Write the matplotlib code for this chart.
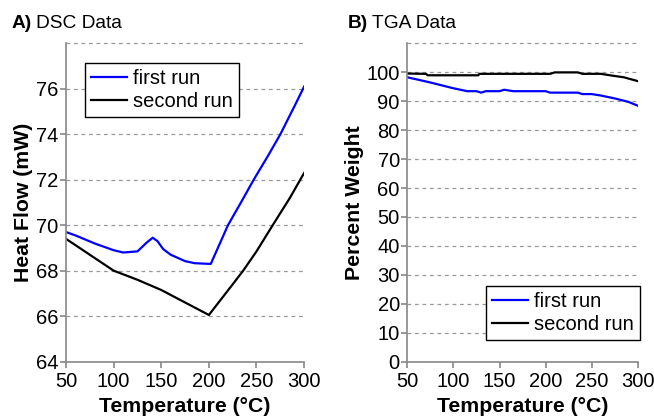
import matplotlib
matplotlib.use("Agg")
import matplotlib.pyplot as plt

plt.rcParams['font.family'] = ['Liberation Sans', 'DejaVu Sans']

# DSC data (temperature in °C, heat flow in mW)
dsc_t1 = [50, 60, 80, 100, 110, 125, 135, 141, 146, 152, 160, 175, 185, 200, 202, 220, 235, 247, 262, 275, 290, 300]
dsc_first = [69.7, 69.55, 69.2, 68.9, 68.8, 68.85, 69.25, 69.45, 69.3, 68.95, 68.7, 68.42, 68.33, 68.3, 68.3, 70.0, 71.1, 72.0, 73.05, 74.0, 75.25, 76.1]
dsc_t2 = [50, 75, 100, 125, 150, 175, 200, 225, 236, 250, 267, 285, 300]
dsc_second = [69.4, 68.7, 68.0, 67.6, 67.15, 66.6, 66.05, 67.4, 68.0, 68.85, 70.0, 71.2, 72.3]

# TGA data (temperature in °C, percent weight)
tga_t1 = [50, 75, 100, 115, 125, 130, 135, 150, 155, 165, 200, 205, 235, 240, 250, 260, 275, 290, 300]
tga_first = [98.3, 96.5, 94.5, 93.5, 93.5, 93.0, 93.5, 93.5, 94.0, 93.5, 93.5, 93.0, 93.0, 92.5, 92.5, 92.0, 91.0, 89.8, 88.5]
tga_t2 = [50, 70, 72, 127, 128, 205, 210, 235, 240, 260, 270, 285, 300]
tga_second = [99.6, 99.5, 99.0, 99.0, 99.5, 99.5, 100.0, 100.0, 99.5, 99.5, 99.0, 98.3, 97.0]

xticks = [50, 100, 150, 200, 250, 300]
gray = '#888888'
dash = (0, (3, 3))

fig = plt.figure(figsize=(6.54, 4.18), dpi=100)
ax1 = fig.add_axes([0.101, 0.135, 0.364, 0.761])
ax2 = fig.add_axes([0.623, 0.135, 0.352, 0.761])


def style(ax, ylim, yticks, ylabel):
    ax.set_xlim(50, 300)
    ax.set_ylim(*ylim)
    ax.set_xticks(xticks)
    ax.set_yticks(yticks)
    for s in ['top', 'right']:
        ax.spines[s].set_visible(False)
    for s in ['left', 'bottom']:
        ax.spines[s].set_color(gray)
        ax.spines[s].set_linewidth(1.2)
    ax.tick_params(axis='both', colors=gray, labelcolor='black', labelsize=14.5,
                   length=4, width=1.2, direction='out', pad=1.5)
    ax.tick_params(axis='x', pad=3.5)
    ax.grid(axis='y', linestyle=dash, color='#999999', linewidth=0.9)
    ax.set_axisbelow(True)
    ax.set_xlabel('Temperature (°C)', fontsize=15.3, fontweight='bold', labelpad=4)
    ax.set_ylabel(ylabel, fontsize=15.3, fontweight='bold', labelpad=2)
    # extra gridline at the top of the plot
    ax.axhline(ylim[1], linestyle=dash, color='#999999', linewidth=0.9, clip_on=False)


legend_kw = dict(fontsize=14.5, fancybox=False, edgecolor='black', framealpha=1,
                 handlelength=1.8, handletextpad=0.3, borderpad=0.3,
                 labelspacing=0.2, borderaxespad=0, bbox_transform=fig.transFigure)

style(ax1, (64, 78), [64, 66, 68, 70, 72, 74, 76], 'Heat Flow (mW)')
ax1.plot(dsc_t1, dsc_first, color='#0000ff', lw=1.6, label='first run')
ax1.plot(dsc_t2, dsc_second, color='black', lw=1.6, label='second run')
leg1 = ax1.legend(loc='upper left', bbox_to_anchor=(0.130, 0.849), **legend_kw)
leg1.get_frame().set_linewidth(1.0)

style(ax2, (0, 110), list(range(0, 101, 10)), 'Percent Weight')
ax2.plot(tga_t1, tga_first, color='#0000ff', lw=1.6, label='first run')
ax2.plot(tga_t2, tga_second, color='black', lw=1.6, label='second run')
leg2 = ax2.legend(loc='lower right', bbox_to_anchor=(0.979, 0.187), **legend_kw)
leg2.get_frame().set_linewidth(1.0)

# panel titles: bold letter followed by normal text
fig.canvas.draw()
renderer = fig.canvas.get_renderer()
for x, letter, name in [(0.018, 'A)', 'DSC Data'), (0.531, 'B)', 'TGA Data')]:
    t = fig.text(x, 0.933, letter, fontsize=13.8, fontweight='bold')
    bb = t.get_window_extent(renderer)
    fig.text((bb.x1 + 4) / fig.bbox.width, 0.933, name, fontsize=13.8)

fig.savefig('out.png', dpi=100)
